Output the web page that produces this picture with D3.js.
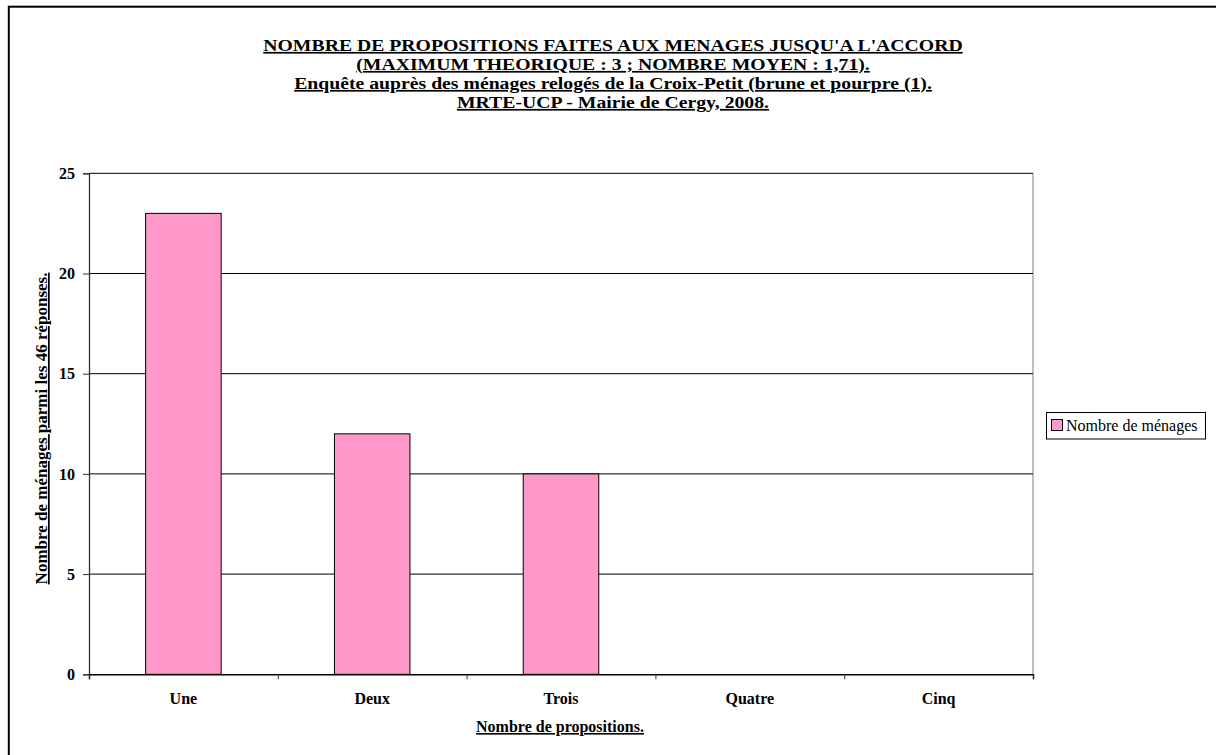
<!DOCTYPE html>
<html><head><meta charset="utf-8">
<script src="https://cdn.jsdelivr.net/npm/d3@7"></script>
<style>
html,body{margin:0;padding:0;background:#fff;}
text{font-family:"Liberation Serif","Times New Roman",serif;}
</style></head>
<body>
<svg id="c" width="1216" height="755"></svg>
<script>
const categories = ["Une","Deux","Trois","Quatre","Cinq"];
const values = [23, 12, 10, 0, 0];
const yTicks = [0,5,10,15,20,25];
const titleLines = [
  "NOMBRE DE PROPOSITIONS FAITES AUX MENAGES JUSQU'A L'ACCORD ",
  "(MAXIMUM THEORIQUE : 3 ; NOMBRE MOYEN : 1,71). ",
  "Enquête auprès des ménages relogés de la Croix-Petit (brune et pourpre (1).",
  "MRTE-UCP - Mairie de Cergy, 2008."
];
const seriesName = "Nombre de ménages";
const xTitle = "Nombre de propositions.";
const yTitle = "Nombre de ménages parmi les 46 réponses.";

const svg = d3.select("#c");
const L = 89, R = 1033, T = 173.3, B = 674.3;

// outer frame
svg.append("rect").attr("x",8.8).attr("y",6.7).attr("width",1230).attr("height",780)
  .attr("fill","none").attr("stroke","#000").attr("stroke-width",2);

// title
const tg = svg.append("g");
const tl = tg.selectAll("text").data(titleLines).join("text")
  .attr("x",613).attr("y",(d,i)=>51+i*19)
  .attr("text-anchor","middle").attr("font-weight","bold").attr("font-size",17)
  .attr("text-decoration","underline").text(d=>d);
const w0 = tl.node().getComputedTextLength();
const sx = 700/w0;
tg.attr("transform",`translate(613,0) scale(${sx},1) translate(-613,0)`);

const x = d3.scaleBand().domain(categories).range([L,R]).paddingInner(0.6).paddingOuter(0.3);
const xb = d3.scaleLinear().domain([0,categories.length]).range([L,R]);
const y = d3.scaleLinear().domain([0,25]).range([B,T]);

// plot area border (right, gray)
svg.append("line").attr("x1",R).attr("x2",R).attr("y1",T).attr("y2",B)
  .attr("stroke","#808080").attr("stroke-width",1);

// gridlines
svg.append("g").selectAll("line").data(yTicks.filter(t=>t>0)).join("line")
  .attr("x1",L).attr("x2",R).attr("y1",d=>y(d)).attr("y2",d=>y(d))
  .attr("stroke","#000").attr("stroke-width",1);

// bars
svg.append("g").selectAll("rect").data(values).join("rect")
  .attr("x",(d,i)=>x(categories[i])).attr("width",x.bandwidth())
  .attr("y",d=>y(d)).attr("height",d=>y(0)-y(d))
  .attr("fill","#FF99CC").attr("stroke","#000").attr("stroke-width",1)
  .style("display",d=>d>0?null:"none");

// y axis
const ya = svg.append("g").attr("transform",`translate(${L},0)`)
  .call(d3.axisLeft(y).tickValues(yTicks).tickSize(6).tickPadding(8).tickFormat(d3.format("d")));
ya.select(".domain").attr("stroke","#333").attr("stroke-width",1.3);
ya.selectAll("line").attr("stroke","#333");
ya.selectAll("text").attr("font-family","Liberation Serif").attr("font-weight","bold")
  .attr("font-size",16).attr("fill","#000");

// x axis ticks at boundaries
const xa = svg.append("g").attr("transform",`translate(0,${B})`)
  .call(d3.axisBottom(xb).tickValues(d3.range(categories.length+1)).tickSize(5).tickFormat(""));
xa.select(".domain").attr("stroke","#000").attr("stroke-width",1.5);
xa.selectAll("line").attr("stroke","#333");

// x labels
const xl = svg.append("g").attr("transform",`translate(0,${B})`)
  .call(d3.axisBottom(x).tickSize(0).tickPadding(18));
xl.select(".domain").remove();
xl.selectAll("text").attr("font-family","Liberation Serif").attr("font-weight","bold")
  .attr("font-size",16).attr("fill","#000");

// axis titles
svg.append("text").attr("x",560).attr("y",732).attr("text-anchor","middle")
  .attr("font-weight","bold").attr("font-size",16).attr("text-decoration","underline")
  .text(xTitle);
svg.append("text").attr("transform","translate(47,428.5) rotate(-90)").attr("text-anchor","middle")
  .attr("font-weight","bold").attr("font-size",17).attr("text-decoration","underline")
  .text(yTitle);

// legend
const lg = svg.append("g");
lg.append("rect").attr("x",1046.5).attr("y",412.5).attr("width",159).attr("height",26.5)
  .attr("fill","#fff").attr("stroke","#000").attr("stroke-width",1);
lg.append("rect").attr("x",1051.5).attr("y",419.5).attr("width",11).attr("height",11)
  .attr("fill","#FF99CC").attr("stroke","#000").attr("stroke-width",1);
lg.append("text").attr("x",1066).attr("y",430.5).attr("font-size",16).text(seriesName);
</script>
</body></html>
